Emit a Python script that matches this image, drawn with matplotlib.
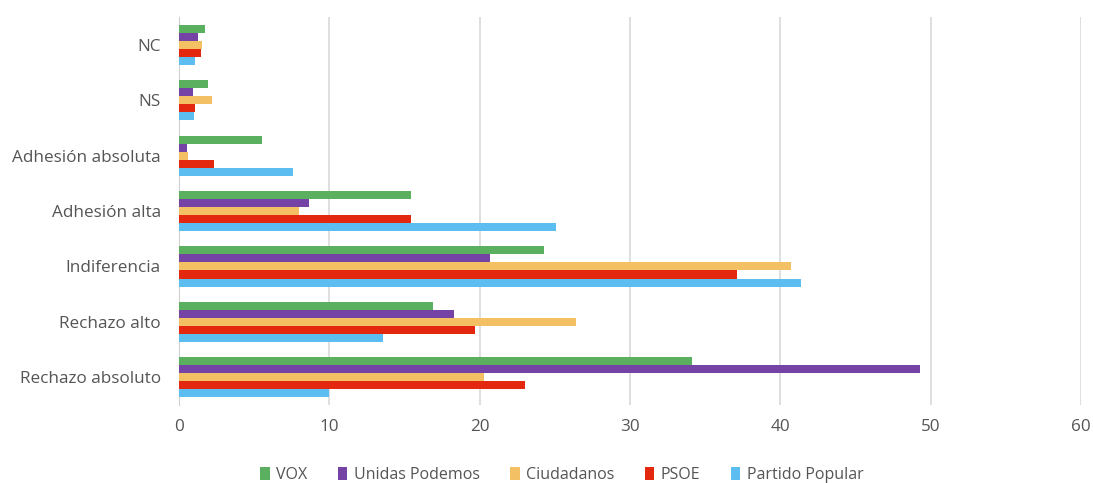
import matplotlib.pyplot as plt
import numpy as np

# Categories (bottom to top as drawn)
categories = ['Rechazo absoluto', 'Rechazo alto', 'Indiferencia', 'Adhesión alta',
              'Adhesión absoluta', 'NS', 'NC']

# Series values, same order as categories
vox = [34.1, 16.9, 24.3, 15.4, 5.55, 1.95, 1.7]
podemos = [49.3, 18.3, 20.7, 8.65, 0.55, 0.9, 1.25]
ciudadanos = [20.3, 26.4, 40.7, 7.95, 0.6, 2.2, 1.55]
psoe = [23.0, 19.7, 37.1, 15.4, 2.35, 1.05, 1.45]
pp = [10.0, 13.6, 41.4, 25.1, 7.55, 1.0, 1.07]

series = [('VOX', vox, '#5bb060'),
          ('Unidas Podemos', podemos, '#7542a6'),
          ('Ciudadanos', ciudadanos, '#f3c064'),
          ('PSOE', psoe, '#e3280f'),
          ('Partido Popular', pp, '#5bbdf0')]

fig = plt.figure(figsize=(10.93, 4.83), dpi=100)
ax = fig.add_axes([0.1638, 0.1615, 0.8253, 0.803])

y = np.arange(len(categories))
h = 0.145
for i, (name, vals, col) in enumerate(series):
    ax.barh(y + (2 - i) * h, vals, height=h, color=col, label=name, zorder=3)

ax.set_xlim(0, 60)
ax.set_ylim(-0.5, len(categories) - 0.5)
ax.set_xticks(range(0, 61, 10))
ax.set_yticks(y)
ax.set_yticklabels(categories)
ax.grid(axis='x', color='#d9d9d9', linewidth=1.2, zorder=0)
for s in ['top', 'right', 'bottom']:
    ax.spines[s].set_visible(False)
ax.spines['left'].set_color('#d0d0d0')
ax.tick_params(axis='both', length=0, labelsize=12.3, colors='#555555')
ax.tick_params(axis='x', pad=10)
ax.tick_params(axis='y', pad=13)
for lbl in ax.get_xticklabels() + ax.get_yticklabels():
    lbl.set_fontfamily('Open Sans')

leg = fig.legend(loc='center', bbox_to_anchor=(0.514, 0.017), ncol=5, frameon=False,
                 handlelength=0.6, handleheight=0.9, handletextpad=0.4,
                 columnspacing=1.9, prop={'family': 'Open Sans', 'size': 11.5})
for t in leg.get_texts():
    t.set_color('#555555')

fig.savefig('out.png', dpi=100)
